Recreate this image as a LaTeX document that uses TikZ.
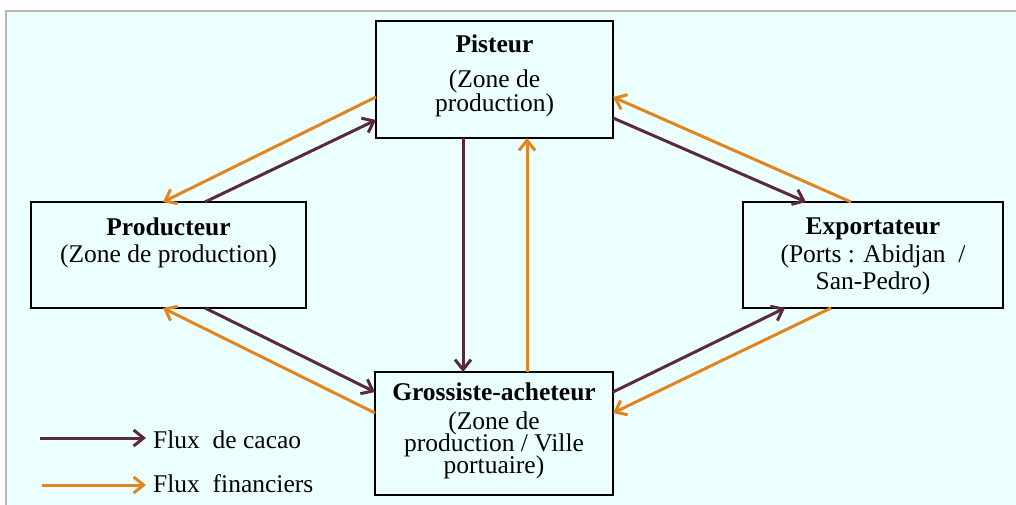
\documentclass[tikz,border=0pt]{standalone}
\usepackage{fontspec}
\setmainfont{Liberation Serif}
\usetikzlibrary{arrows.meta}
\definecolor{cacaocol}{HTML}{5A2A3C}
\definecolor{fincol}{HTML}{E2851E}
\definecolor{bgcol}{HTML}{EBFFFF}
\lineskiplimit=-30pt
\tikzset{
	actor/.style={draw=black, line width=1.6pt, fill=bgcol, outer sep=0pt},
	lbl/.style={align=center, anchor=north, inner sep=0pt},
	cacao/.style={draw=cacaocol, line width=3pt, -{Straight Barb[length=10pt,width=16pt]}},
	fin/.style={draw=fincol, line width=3pt, -{Straight Barb[length=10pt,width=16pt]}}
}
\begin{document}
\begin{tikzpicture}[x=1pt,y=-1pt]
		\useasboundingbox (0,0) rectangle (1016,505);
		\fill[white] (0,0) rectangle (1016,505);
		\fill[bgcol] (6,11) rectangle (1016,505);
		\draw[gray!55, line width=2pt] (6,505)--(6,11)--(1016,11);
		% boxes
		\node[actor, minimum width=237, minimum height=117] (pist) at (494.5,79.5) {};
		\node[actor, minimum width=275, minimum height=106] (prod) at (168.5,255) {};
		\node[actor, minimum width=260, minimum height=106] (expo) at (873,255) {};
		\node[actor, minimum width=238, minimum height=123] (gros) at (494,433.5) {};
		\node[lbl, font=\fontsize{25.5}{24}\selectfont] (pistT) at ([yshift=-14pt]pist.north) {\textbf{Pisteur}\\[11pt](Zone de\\production)};
		\node[lbl, font=\fontsize{25.5}{27}\selectfont] (prodT) at ([yshift=-16pt]prod.north) {\textbf{Producteur}\\(Zone de production)};
		\node[lbl, font=\fontsize{25.5}{27.5}\selectfont] (expoT) at ([yshift=-16pt]expo.north) {\textbf{Exportateur}\\(Ports : Abidjan~ /\\San-Pedro)};
		\node[lbl, font=\fontsize{25.5}{22}\selectfont] (grosT) at ([yshift=-11pt]gros.north) {\textbf{Grossiste-acheteur}\\[7pt](Zone de\\production / Ville\\portuaire)};
		% flows
		\draw[cacao] ([xshift=36.5pt]prod.north) -- ([yshift=-40.5pt]pist.west);
		\draw[fin] ([yshift=-17.5pt]pist.west) -- ([xshift=-5.5pt]prod.north);
		\draw[cacao] ([yshift=-38.5pt]pist.east) -- ([xshift=-67pt]expo.north);
		\draw[fin] ([xshift=-22pt]expo.north) -- ([yshift=-17.5pt]pist.east);
		\draw[cacao] ([xshift=-31.5pt]pist.south) -- ([xshift=-31pt]gros.north);
		\draw[fin] ([xshift=33pt]gros.north) -- ([xshift=32.5pt]pist.south);
		\draw[cacao] ([xshift=36.5pt]prod.south) -- ([yshift=41.5pt]gros.west);
		\draw[fin] ([yshift=20.5pt]gros.west) -- ([xshift=-5.5pt]prod.south);
		\draw[cacao] ([yshift=41.5pt]gros.east) -- ([xshift=-88pt]expo.south);
		\draw[fin] ([xshift=-42pt]expo.south) -- ([yshift=20.5pt]gros.east);
		% legend
		\coordinate (k1a) at (40,438);
		\coordinate (k1b) at (146,438);
		\coordinate (k2a) at (42,485);
		\coordinate (k2b) at (146,485);
		\draw[cacao] (k1a) -- (k1b);
		\draw[fin] (k2a) -- (k2b);
		\node[lbl, anchor=base west, font=\fontsize{25.5}{27}\selectfont] (k1t) at (153,448) {Flux~ de cacao};
		\node[lbl, anchor=base west, font=\fontsize{25.5}{27}\selectfont] (k2t) at (153,492) {Flux~ financiers};
	    \end{tikzpicture}
\end{document}
